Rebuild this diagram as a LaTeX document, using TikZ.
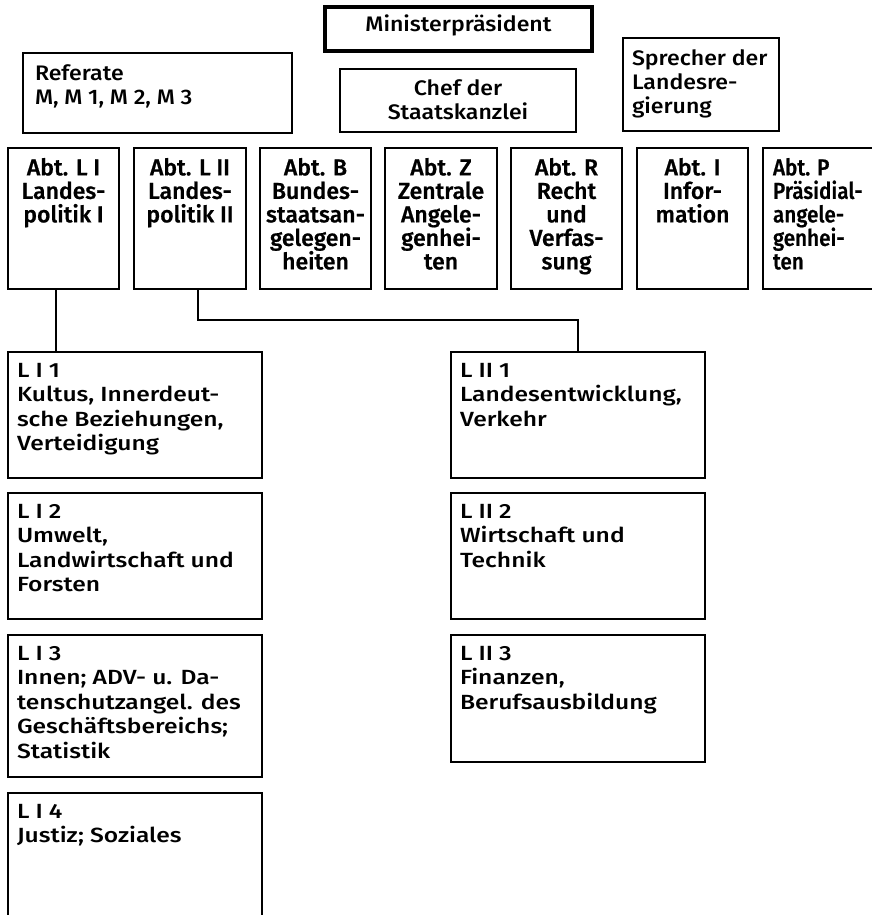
\documentclass[tikz,border=0pt]{standalone}
\usepackage{fontspec}
\newcommand\mysetupfonts[1]{%
  \setmainfont{#1}%
  \newfontfamily\lowfont{#1}[FakeStretch=1.2]%
  \newfontfamily\topfont{#1}[FakeStretch=1.1]%
  \newfontfamily\abtfont{#1}[FakeBold=0.8]%
  \newfontfamily\abtpfont{#1}[FakeStretch=0.9,FakeBold=0.8]}
\IfFontExistsTF{Fira Sans Medium}{\mysetupfonts{Fira Sans Medium}}{\mysetupfonts{Fira Sans}}
\begin{document}
\begin{tikzpicture}[x=1pt,y=-1pt,
  box/.style={draw, line width=1.8pt, inner sep=0pt, outer sep=0pt, anchor=north west},
  topbox/.style={box, line width=3.5pt},
  toptxt/.style={inner sep=0pt, outer sep=0pt, font=\topfont\fontsize{21}{24}\selectfont},
  abttxt/.style={inner sep=0pt, outer sep=0pt, align=center, anchor=north, font=\abtfont\fontsize{23}{23.5}\selectfont},
  reftxt/.style={inner sep=0pt, outer sep=0pt, align=left, anchor=north west, font=\lowfont\fontsize{20.5}{24.5}\selectfont},
  conn/.style={line width=1.8pt}]
\useasboundingbox (0,0) rectangle (871,915);

% top level
\node[topbox, minimum width=267pt, minimum height=44pt] (mp) at (325,7) {};
\node[toptxt, anchor=base] (mpt) at ([yshift=-25pt]mp.north) {Ministerpräsident};
\node[box, minimum width=269pt, minimum height=80pt] (ref) at (23,53) {};
\node[toptxt, align=left, anchor=north west] (reft) at ([xshift=12pt,yshift=-12pt]ref.north west) {Referate\\M, M 1, M 2, M 3};
\node[box, minimum width=236pt, minimum height=63pt] (chef) at (340,69) {};
\node[toptxt, align=center, anchor=north] (cheft) at ([yshift=-11pt]chef.north) {Chef der\\Staatskanzlei};
\node[box, minimum width=156pt, minimum height=93pt] (spr) at (623,38) {};
\node[toptxt, align=left, anchor=north west] (sprt) at ([xshift=9pt,yshift=-12pt]spr.north west) {Sprecher der\\Landesre-\\gierung};

% departments
\node[box, minimum width=111pt, minimum height=141pt] (a1) at (8,148) {};
\node[abttxt] (a1t) at ([yshift=-10pt]a1.north) {Abt. L I\\Landes-\\politik I};
\node[box, minimum width=112pt, minimum height=141pt] (a2) at (134,148) {};
\node[abttxt] (a2t) at ([yshift=-10pt]a2.north) {Abt. L II\\Landes-\\politik II};
\node[box, minimum width=111pt, minimum height=141pt] (aB) at (260,148) {};
\node[abttxt] (aBt) at ([yshift=-10pt]aB.north) {Abt. B\\Bundes-\\staatsan-\\gelegen-\\heiten};
\node[box, minimum width=112pt, minimum height=141pt] (aZ) at (385,148) {};
\node[abttxt] (aZt) at ([yshift=-10pt]aZ.north) {Abt. Z\\Zentrale\\Angele-\\genhei-\\ten};
\node[box, minimum width=111pt, minimum height=141pt] (aR) at (511,148) {};
\node[abttxt] (aRt) at ([yshift=-10pt]aR.north) {Abt. R\\Recht\\und\\Verfas-\\sung};
\node[box, minimum width=111pt, minimum height=141pt] (aI) at (637,148) {};
\node[abttxt] (aIt) at ([yshift=-10pt]aI.north) {Abt. I\\Infor-\\mation};
\node[box, minimum width=140pt, minimum height=141pt] (aP) at (763,148) {};
\node[abttxt, align=left, anchor=north west, font=\abtpfont\fontsize{23}{23.5}\selectfont] (aPt) at ([xshift=10pt,yshift=-10pt]aP.north west) {Abt. P\\Präsidial-\\angele-\\genhei-\\ten};

% Referate L I
\node[box, minimum width=254pt, minimum height=126pt] (l1) at (8,352) {};
\node[reftxt] (l1t) at ([xshift=9pt,yshift=-11pt]l1.north west) {L I 1\\Kultus, Innerdeut-\\sche Beziehungen,\\Verteidigung};
\node[box, minimum width=254pt, minimum height=126pt] (l2) at (8,493) {};
\node[reftxt] (l2t) at ([xshift=9pt,yshift=-11pt]l2.north west) {L I 2\\Umwelt,\\Landwirtschaft und\\Forsten};
\node[box, minimum width=254pt, minimum height=142pt] (l3) at (8,635) {};
\node[reftxt] (l3t) at ([xshift=9pt,yshift=-11pt]l3.north west) {L I 3\\Innen; ADV- u. Da-\\tenschutzangel. des\\Geschäftsbereichs;\\Statistik};
\node[box, minimum width=254pt, minimum height=160pt] (l4) at (8,793) {};
\node[reftxt] (l4t) at ([xshift=9pt,yshift=-11pt]l4.north west) {L I 4\\Justiz; Soziales};

% Referate L II
\node[box, minimum width=254pt, minimum height=126pt] (r1) at (451,352) {};
\node[reftxt] (r1t) at ([xshift=9pt,yshift=-11pt]r1.north west) {L II 1\\Landesentwicklung,\\Verkehr};
\node[box, minimum width=254pt, minimum height=126pt] (r2) at (451,493) {};
\node[reftxt] (r2t) at ([xshift=9pt,yshift=-11pt]r2.north west) {L II 2\\Wirtschaft und\\Technik};
\node[box, minimum width=254pt, minimum height=127pt] (r3) at (451,635) {};
\node[reftxt] (r3t) at ([xshift=9pt,yshift=-11pt]r3.north west) {L II 3\\Finanzen,\\Berufsausbildung};

% connectors
\path (a1.south west) ++(48,0) coordinate (p1);
\draw[conn] (p1) -- (p1 |- l1.north);
\path (a2.south west) ++(64,0) coordinate (p2);
\path (r1.north west) ++(127,0) coordinate (q2);
\draw[conn] (p2) -- ++(0,31) -| (q2);
\end{tikzpicture}
\end{document}
